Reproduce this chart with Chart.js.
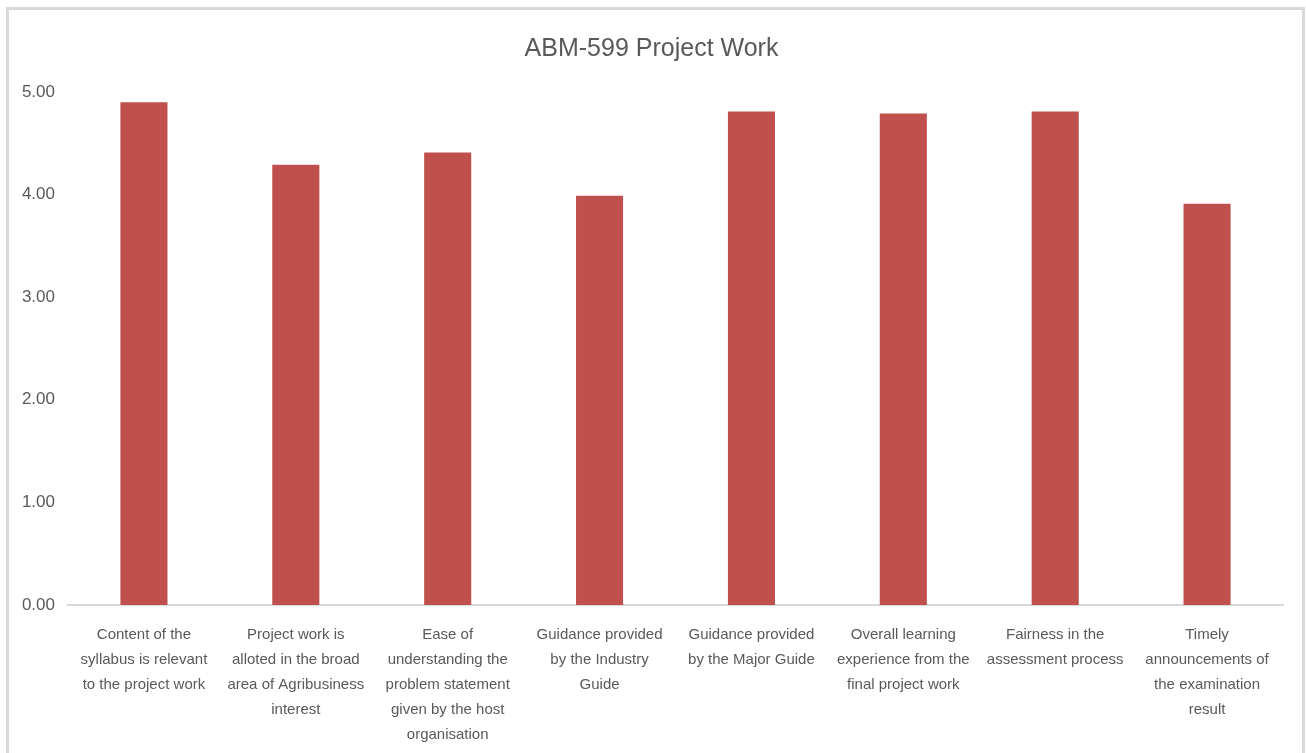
<!DOCTYPE html>
<html>
<head>
<meta charset="utf-8">
<title>ABM-599 Project Work</title>
<script src="https://cdn.jsdelivr.net/npm/chart.js@4.4.1/dist/chart.umd.min.js"></script>
<style>
  html, body { margin: 0; padding: 0; background: #fff; overflow: hidden; }
  #frame {
    position: absolute; left: 6px; top: 7px; width: 1299px; height: 760px;
    border: 3px solid #d9d9d9; box-sizing: border-box;
  }
  #chart { position: absolute; left: 0; top: 0; }
</style>
</head>
<body>
<div id="frame"></div>
<canvas id="chart" width="1306" height="753"></canvas>
<script>
// Data
const chartTitle = "ABM-599 Project Work";
const categories = [
    ["Content of the", "syllabus is relevant", "to the project work"],
    ["Project work is", "alloted in the broad", "area of Agribusiness", "interest"],
    ["Ease of", "understanding the", "problem statement", "given by the host", "organisation"],
    ["Guidance provided", "by the Industry", "Guide"],
    ["Guidance provided", "by the Major Guide"],
    ["Overall learning", "experience from the", "final project work"],
    ["Fairness in the", "assessment process"],
    ["Timely", "announcements of", "the examination", "result"]
];
const scores = [4.90, 4.29, 4.41, 3.99, 4.81, 4.79, 4.81, 3.91];
const yTicks = [0, 1, 2, 3, 4, 5];

const textColor = '#595959';
const fontFamily = "'Liberation Sans', sans-serif";

var ctx = document.getElementById('chart').getContext('2d');
var chart = new Chart(ctx, {
    type: 'bar',
    data: {
        labels: categories,
        datasets: [{
            label: 'Score',
            data: scores,
            backgroundColor: '#c0504d',
            barPercentage: 0.62,
            categoryPercentage: 0.5
        }]
    },
    options: {
        responsive: false,
        animation: false,
        layout: { padding: { top: 34, right: 23, left: 20, bottom: 0 } },
        plugins: {
            legend: { display: false },
            tooltip: { enabled: false },
            title: {
                display: true,
                text: chartTitle,
                color: textColor,
                font: { family: fontFamily, size: 25, weight: 'normal', lineHeight: 1.2 },
                padding: { top: 0, bottom: 28 }
            }
        },
        scales: {
            y: {
                min: 0,
                max: 5,
                afterBuildTicks: (scale) => { scale.ticks = yTicks.map(v => ({ value: v })); },
                afterFit: (scale) => { scale.width = 48; },
                grid: { display: false, drawTicks: false },
                border: { display: false },
                ticks: {
                    color: textColor,
                    padding: 13,
                    font: { family: fontFamily, size: 17 },
                    callback: (v) => Number(v).toFixed(2)
                }
            },
            x: {
                afterFit: (scale) => { scale.height = 148; },
                grid: { display: false, drawTicks: false },
                border: { display: true, color: '#d9d9d9', width: 2 },
                ticks: {
                    color: textColor,
                    padding: 17,
                    maxRotation: 0,
                    autoSkip: false,
                    font: { family: fontFamily, size: 15, lineHeight: 1.667 }
                }
            }
        }
    }
});
</script>
</body>
</html>
